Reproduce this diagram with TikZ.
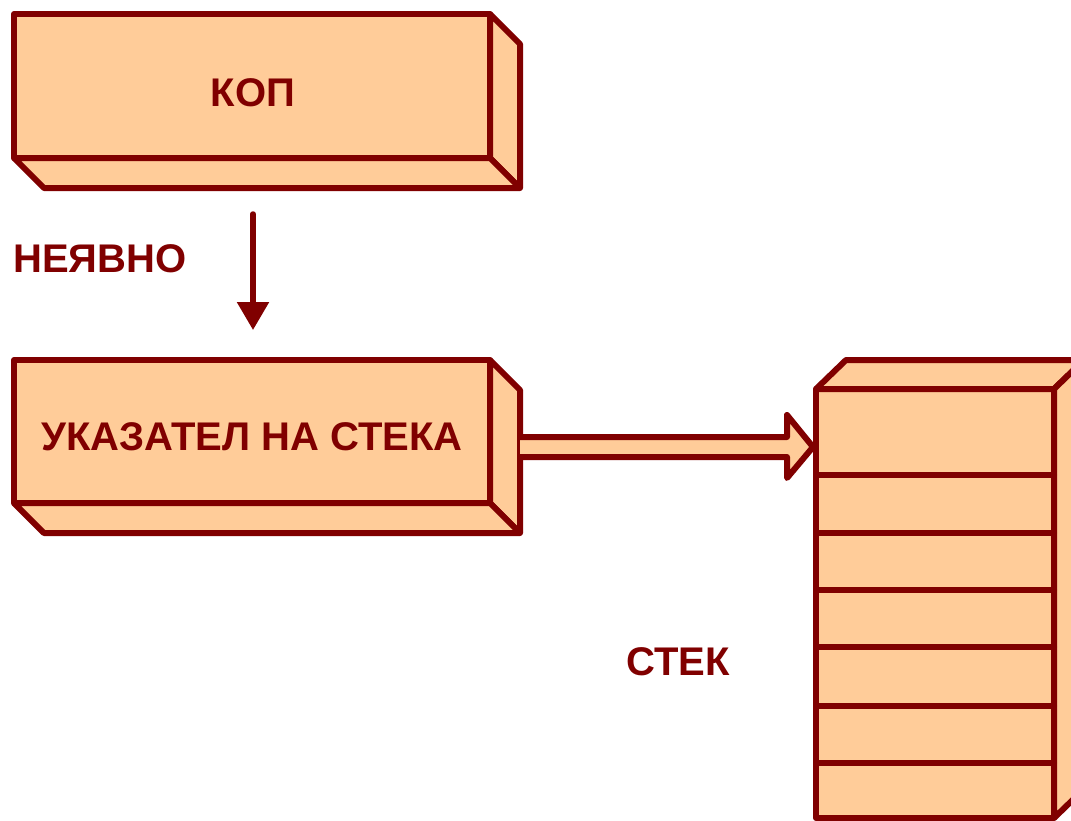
\documentclass[tikz,border=0pt]{standalone}
\usepackage{fontspec}
\setmainfont{Liberation Sans}
\usetikzlibrary{arrows.meta,calc}
\definecolor{dred}{HTML}{800000}
\definecolor{peach}{HTML}{FFCC99}
\tikzset{
  face/.style={draw=dred,fill=peach,line width=6pt,line join=round},
  frontbox/.style={face,rectangle,outer sep=0pt,inner sep=0pt},
  lbl/.style={text=dred,font=\fontsize{40}{44}\selectfont\bfseries,inner sep=0pt},
  varrow/.style={draw=dred,line width=5.5pt,line cap=round,-{Triangle[width=31pt,length=28pt]}},
  dline/.style={draw=dred,line width=6pt,line join=round,line cap=round}
}
\begin{document}
\begin{tikzpicture}[x=1pt,y=-1pt]
\useasboundingbox (0,0) rectangle (1071,820);
\begin{scope}
\clip (0,0) rectangle (1071,820);
% box KOP
\node[frontbox,minimum width=476pt,minimum height=144pt] (kop) at (252,86) {};
\draw[face] (kop.north east) -- ++(30,30) -- ++(0,144) -- (kop.south east) -- cycle;
\draw[face] (kop.south west) -- ++(30,30) -- ++(476,0) -- (kop.south east) -- cycle;
\node[lbl] (koptxt) at (253,93) {КОП};
% box pointer
\node[frontbox,minimum width=476pt,minimum height=143pt] (ptr) at (252,431.5) {};
\draw[face] (ptr.north east) -- ++(30,30) -- ++(0,143) -- (ptr.south east) -- cycle;
\draw[face] (ptr.south west) -- ++(30,30) -- ++(476,0) -- (ptr.south east) -- cycle;
\node[lbl] (ptrtxt) at (252,437) {УКАЗАТЕЛ НА СТЕКА};
% implicit label and arrow
\node[lbl] (impl) at (100,259) {НЕЯВНО};
\draw[varrow] ([xshift=1pt,yshift=-56pt]kop.south) -- ([xshift=1pt,yshift=30pt]ptr.north);
% stack
\node[frontbox,minimum width=238pt,minimum height=429pt] (stk) at (935,603.5) {};
\draw[face] (stk.north west) -- ++(30,-29) -- ++(238,0) -- (stk.north east) -- cycle;
\draw[face] (stk.north east) -- ++(30,-29) -- ++(0,429) -- (stk.south east) -- cycle;
\foreach \yy in {475,533,590,647,705.5,763}
  \draw[dline] (stk.west |- 0,\yy) -- (stk.east |- 0,\yy);
\node[lbl] (stktxt) at (678,662) {СТЕК};
% double arrow
\coordinate (arrS) at (520,447);
\coordinate (arrT) at (stk.west |- arrS);
\fill[peach] ($(arrS)+(0,-10)$) -- ($(arrT)+(-29,-10)$) -- ++(0,-22) -- ($(arrT)+(-3,0)$)
   -- ($(arrT)+(-29,31)$) -- ++(0,-21) -- ($(arrS)+(0,10)$) -- cycle;
\draw[dline] ($(arrS)+(0,-10)$) -- ($(arrT)+(-29,-10)$) -- ++(0,-22) -- ($(arrT)+(-3,0)$)
   -- ($(arrT)+(-29,31)$) -- ++(0,-21) -- ($(arrS)+(0,10)$);
\end{scope}
\end{tikzpicture}
\end{document}
